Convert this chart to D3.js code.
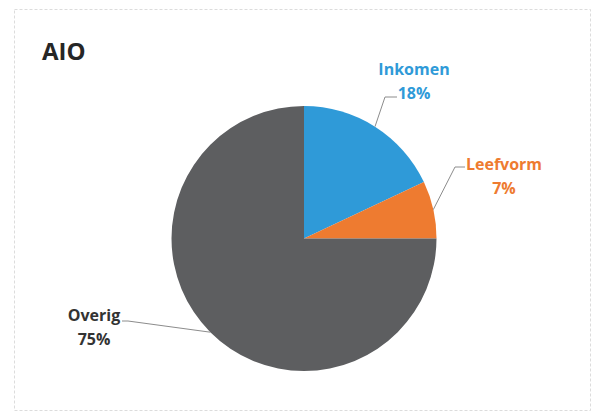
<!DOCTYPE html>
<html>
<head>
<meta charset="utf-8">
<script src="https://cdn.jsdelivr.net/npm/d3@7"></script>
<style>
  body { margin: 0; background: #fff; }
  text { font-family: "Open Sans", "Noto Sans", sans-serif; }
</style>
</head>
<body>
<svg id="chart" width="592" height="412"></svg>
<script>
const categories = ['Inkomen', 'Leefvorm', 'Overig'];
const values = [18, 7, 75];
const colors = ['#2f9ad8', '#ee7b30', '#5d5e60'];
const labelColors = ['#2f9ad8', '#ee7b30', '#333333'];

const svg = d3.select('#chart');

// faint frame around the chart area
svg.append('rect')
    .attr('x', 14.5)
    .attr('y', 9.5)
    .attr('width', 576)
    .attr('height', 401)
    .attr('fill', 'none')
    .attr('stroke', '#dcdcdc')
    .attr('stroke-dasharray', '3,2');

svg.append('text')
    .attr('x', 42)
    .attr('y', 60)
    .attr('font-family', 'Liberation Sans, Arial, sans-serif')
    .attr('font-weight', 'bold')
    .attr('font-size', 24)
    .attr('fill', '#262626')
    .text('AIO');

const cx = 304, cy = 238.5, r = 132.5;

const pie = d3.pie().sort(null).value(d => d.value);
const arcs = pie(categories.map((c, i) => ({ name: c, value: values[i] })));
const arc = d3.arc().innerRadius(0).outerRadius(r);

const g = svg.append('g').attr('transform', `translate(${cx},${cy})`);

g.selectAll('path')
    .data(arcs)
    .enter()
    .append('path')
    .attr('d', arc)
    .attr('fill', (d, i) => colors[i]);

// label positions relative to pie centre: text centre / first baseline, leader elbow
const labelPos = [
    { x: 110, y: -163.5, elbow: [[81, -141.5], [93, -141.5]] },
    { x: 200, y: -68.5, elbow: [[151, -71.5], [161, -71.5]] },
    { x: -210, y: 82.5, elbow: [[-176, 82.5], [-182, 82.5]] },
];

const leaderArc = d3.arc().innerRadius(r).outerRadius(r);

arcs.forEach((d, i) => {
    const p = labelPos[i];
    const edge = leaderArc.centroid(d);
    g.append('path')
        .attr('d', d3.line()([edge, p.elbow[0], p.elbow[1]]))
        .attr('fill', 'none')
        .attr('stroke', '#8c8c8c')
        .attr('stroke-width', 1);

    const t = g.append('text')
        .attr('text-anchor', 'middle')
        .attr('font-weight', 'bold')
        .attr('font-size', 16)
        .attr('fill', labelColors[i]);
    t.append('tspan').attr('x', p.x).attr('y', p.y).text(d.data.name);
    t.append('tspan').attr('x', p.x).attr('y', p.y + 24).text(d.data.value + '%');
});
</script>
</body>
</html>
